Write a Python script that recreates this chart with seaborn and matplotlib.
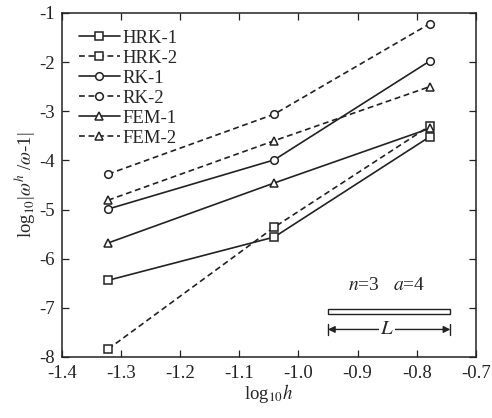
import numpy as np
import pandas as pd
import matplotlib
matplotlib.use("Agg")
import matplotlib.pyplot as plt
import seaborn as sns

sns.set_theme(style="ticks")
plt.rcParams['font.family'] = ['Liberation Serif', 'DejaVu Serif']
plt.rcParams['mathtext.fontset'] = 'stix'
plt.rcParams['axes.unicode_minus'] = False

# log10 of the element size h
log_h = [-1.322, -1.041, -0.778]

# log10 |omega^h / omega - 1| for each method
hrk_1 = [-6.44, -5.56, -3.52]
hrk_2 = [-7.84, -5.36, -3.30]
rk_1 = [-4.99, -3.99, -1.98]
rk_2 = [-4.28, -3.06, -1.22]
fem_1 = [-5.68, -4.46, -3.35]
fem_2 = [-4.81, -3.60, -2.50]

labels = ['HRK-1', 'HRK-2', 'RK-1', 'RK-2', 'FEM-1', 'FEM-2']
series = [hrk_1, hrk_2, rk_1, rk_2, fem_1, fem_2]
markers = ['s', 's', 'o', 'o', '^', '^']

fig = plt.figure(figsize=(4.92, 4.18), dpi=100)
ax = fig.add_axes([0.126, 0.146, 0.841, 0.823])

for lab, vals, mk in zip(labels, series, markers):
    dashed = lab.endswith('-2')
    sns.lineplot(x=log_h, y=vals, ax=ax, color='#222222', linewidth=1.2,
                 marker=mk, markersize=5.5, markerfacecolor='white',
                 markeredgecolor='#222222', markeredgewidth=1.1,
                 linestyle=(0, (3.5, 2.2)) if dashed else '-', label=lab)

ax.set_xlim(-1.4, -0.7)
ax.set_ylim(-8, -1)
ticks_x = np.arange(-1.4, -0.69, 0.1)
ax.set_xticks(ticks_x)
ax.set_xticklabels([f"{v:.1f}" for v in ticks_x])
ax.set_yticks(range(-8, 0))
ax.tick_params(direction='in', top=True, right=True, length=5, width=0.9,
               labelsize=13.5, colors='#222222')
ax.tick_params(axis='x', pad=6)
ax.tick_params(axis='y', pad=5)
for s in ax.spines.values():
    s.set_color('#222222')
    s.set_linewidth(1.1)

ax.set_xlabel(r'log$_{10}$$h$', fontsize=13.5, labelpad=0)
ax.set_ylabel(r'log$_{10}$|$\omega^h$ /$\omega$-1|', fontsize=13.5, labelpad=1)

ax.legend(loc='upper left', frameon=False, fontsize=13.5, handlelength=2.2,
          handletextpad=0.1, labelspacing=0.15, borderaxespad=0.6,
          borderpad=0.3)

# inset sketch: the beam and its length L
ax.text(-0.85, -6.55, r'$n$=3   $a$=4', ha='center', va='center', fontsize=14)
ax.add_patch(plt.Rectangle((-0.95, -7.13), 0.207, 0.1, facecolor='white',
                           edgecolor='#222222', linewidth=1.0))
ax.annotate('', xy=(-0.95, -7.44), xytext=(-0.743, -7.44),
            arrowprops=dict(arrowstyle='<|-|>', color='#222222', lw=1.0,
                            shrinkA=0, shrinkB=0, mutation_scale=10))
ax.plot([-0.95, -0.95], [-7.32, -7.56], color='#222222', lw=1.0)
ax.plot([-0.743, -0.743], [-7.32, -7.56], color='#222222', lw=1.0)
ax.text(-0.85, -7.44, r'$L$', ha='center', va='center', fontsize=15,
        bbox=dict(facecolor='white', edgecolor='none', pad=1))

fig.savefig('out.png', dpi=100)
